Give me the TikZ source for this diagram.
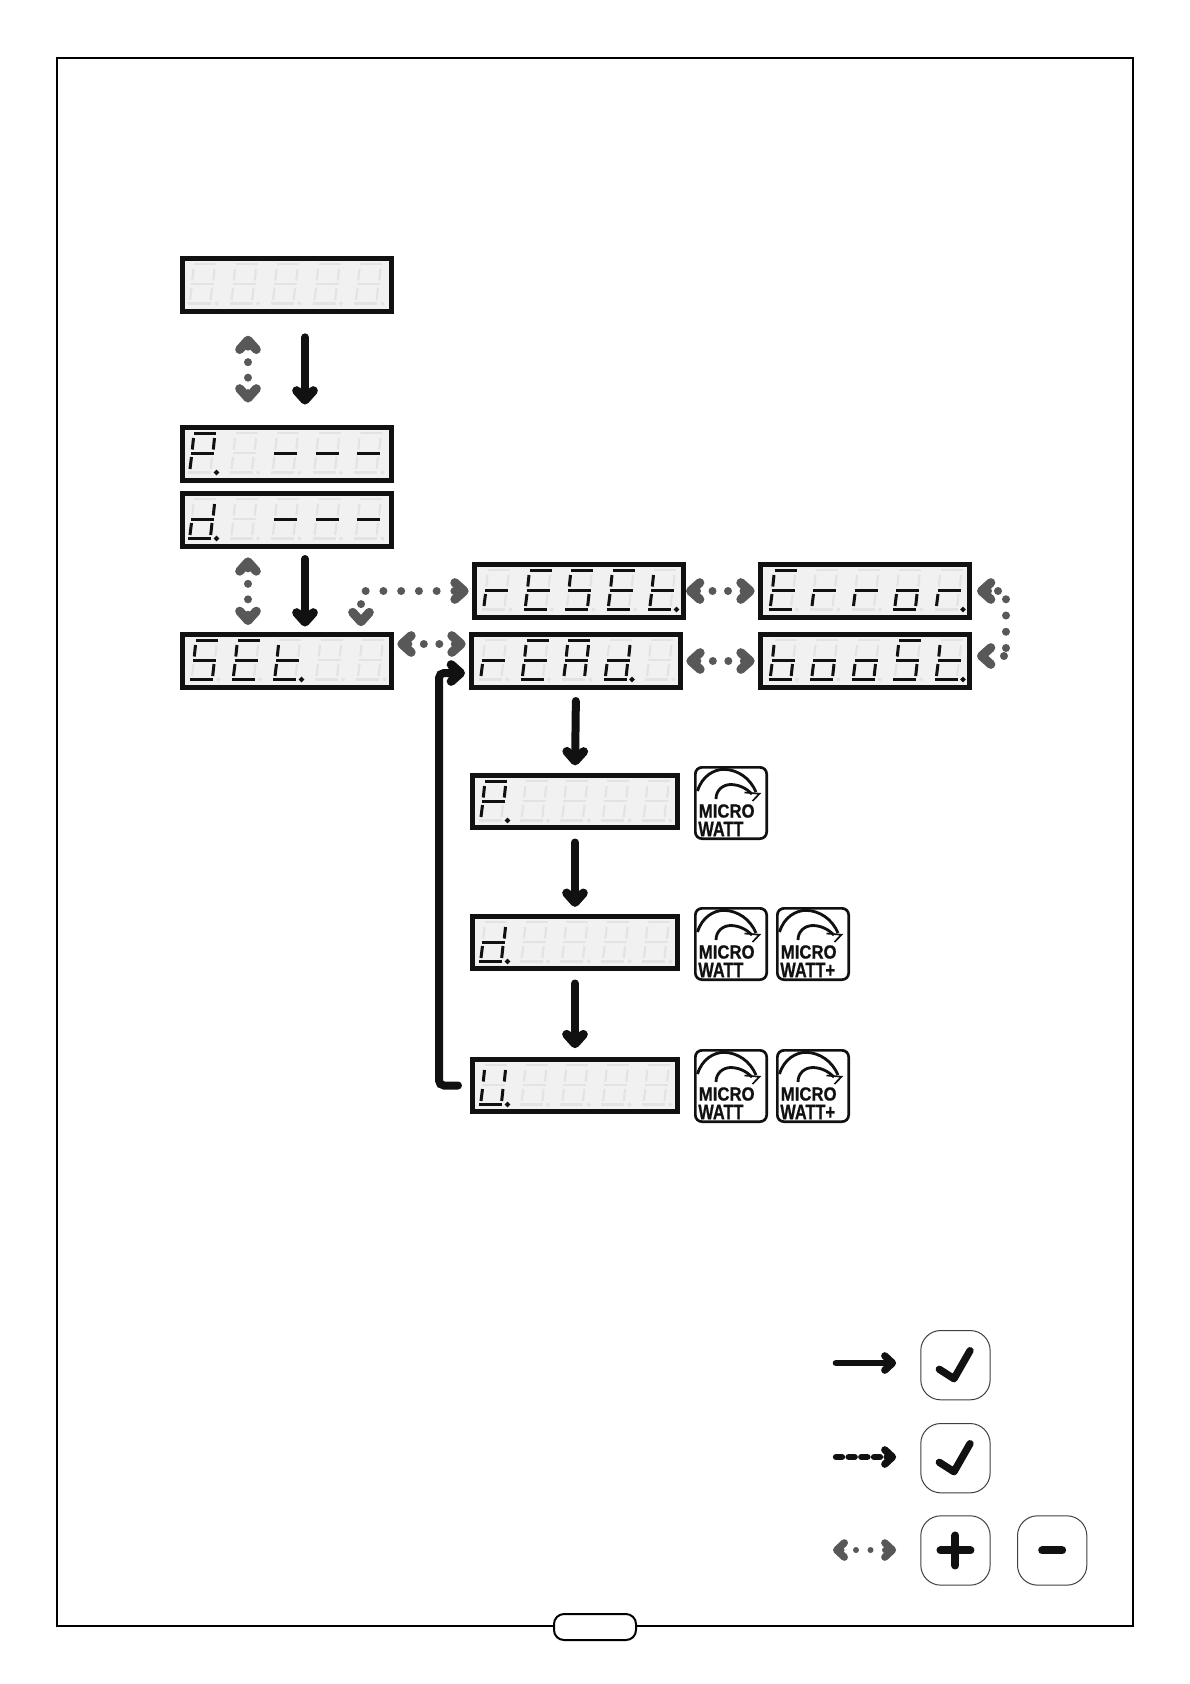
\documentclass[tikz,border=0pt]{standalone}
\usepackage{fontspec}
\setsansfont{Liberation Sans}
\newfontfamily\badgefont[FakeBold=0.9]{Liberation Sans Bold}
\usetikzlibrary{arrows.meta}
\usetikzlibrary{calc}
\definecolor{lcdback}{HTML}{F1F1F1}
\definecolor{lcdoff}{HTML}{E3E3E3}
\definecolor{inkblack}{HTML}{111111}
\definecolor{inkgrey}{HTML}{585858}

% the seven segments and the dot of one digit
\newcommand{\defseg}[2]{\expandafter\def\csname seg#1\endcsname{#2}}
\defseg{a}{(14,8) -- (36,8)}
\defseg{b}{(34.5,13) -- (33.3,24.5)}
\defseg{c}{(32,32) -- (30.7,44)}
\defseg{d}{(8,47.5) -- (31,47.5)}
\defseg{e}{(11.5,32) -- (10,44)}
\defseg{f}{(13.5,13) -- (12.3,24.5)}
\defseg{g}{(11,28) -- (34,28)}
\defseg{h}{(36.5,47.5) circle (0.4pt)}
\defseg{n}{}

% #1 node, #2 x offset, #3 pitch, #4 lit segments of the five digits
\newcommand{\lcd}[4]{
  \begin{scope}[shift={(#1.north west)}, xshift=#2*0.6pt]
    \foreach \i/\lit in {#4} {
      \begin{scope}[shift={(\i*#3,0)}]
        \foreach \s in {a,b,c,d,e,f,g,h}
          \draw[segoff] \csname seg\s\endcsname;
        \foreach \s in \lit
          \draw[segon] \csname seg\s\endcsname;
      \end{scope}
    }
  \end{scope}
}

% #1 node name, #2 position, #3 text after WATT
\newcommand{\badge}[3]{
  \node[badgebox] (#1) at #2 {};
  \node[badgetext] (#1 m) at ($(#1.north west)+(4.5,45)$) {\scalebox{0.88}[1]{MICRO}};
  \node[badgetext, font=\badgefont\fontsize{12.6}{12.6}\selectfont] (#1 w) at ($(#1.north west)+(4,63)$) {\scalebox{0.78}[1]{WATT#3}};
  \begin{scope}[shift={(#1.north west)}]
    \draw[badgearc] (3.5,25) .. controls (8,10) and (20,3.3) .. (30,3.3) .. controls (44,3.8) and (56,12) .. (62,26);
    \draw[badgearc] (22,33) .. controls (22,24) and (29,18.5) .. (37,18.5) .. controls (46,18.7) and (53,23) .. (58,28);
    \draw[badgehead] (50.5,26.5) -- (65.5,27.7) -- (58.5,35);
  \end{scope}
}

\tikzset{
  display/.style={draw=inkblack, fill=lcdback, line width=3pt, inner sep=0pt,
    minimum width=125.4pt, minimum height=31.8pt, anchor=north west},
  shortdisplay/.style={display, minimum width=123pt, minimum height=31.2pt},
  segoff/.style={draw=lcdoff, line width=1.3pt},
  segon/.style={draw=inkblack, line width=1.8pt},
  chev/.tip={Straight Barb[round, length=5.6pt, width=10pt, line width=5.4pt]},
  smallchev/.tip={Straight Barb[round, length=4.6pt, width=8.6pt, line width=4.4pt]},
  solidflow/.style={draw=inkblack, line width=4.8pt, line cap=round, -{chev}},
  dotflow/.style={draw=inkgrey, line width=4.8pt, line cap=round,
    dash pattern=on 0pt off 9.3pt, dash phase=8.1pt, {chev}-{chev}},
  badgebox/.style={draw=inkblack, fill=white, line width=1.6pt, rounded corners=4pt,
    minimum width=42.8pt, minimum height=42.8pt, inner sep=0pt, anchor=north west},
  badgetext/.style={font=\badgefont\fontsize{11.4}{11.4}\selectfont, text=inkblack,
    anchor=west, inner sep=0pt},
  badgearc/.style={draw=inkblack, line width=1.7pt},
  badgehead/.style={draw=inkblack, line width=1pt},
  pushbtn/.style={draw=black!75, line width=0.6pt, rounded corners=12pt,
    minimum width=41.6pt, minimum height=41.6pt, inner sep=0pt, anchor=north west},
  glyph/.style={draw=inkblack, line width=4.4pt, line cap=round, line join=round},
}

\begin{document}
\begin{tikzpicture}[x=0.6pt,y=-0.6pt]

  \useasboundingbox (0,0) rectangle (1190,1684);
  \fill[white] (0,0) rectangle (1190,1684);

  % page frame and the tab on it
  \draw[line width=1.2pt] (57,58) rectangle (1133,1626);
  \node[draw, fill=white, line width=1.2pt, rounded corners=6pt, minimum width=49.2pt,
    minimum height=15.6pt, inner sep=0pt] (tab) at (595,1627) {};

  % displays of the left column
  \node[display] (blank) at (180,256) {};
  \node[display] (pdash) at (180,425) {};
  \node[display] (ddash) at (180,491) {};
  \node[display] (set)   at (180,632) {};

  % displays of the menu
  \node[display] (reset) at (472,562) {};
  \node[display] (read)  at (469,632) {};
  \node[display] (error) at (758,562) {};
  \node[display] (boost) at (758,632) {};

  % displays of the read values
  \node[shortdisplay] (pval) at (470,773) {};
  \node[shortdisplay] (dval) at (470,914) {};
  \node[shortdisplay] (uval) at (470,1057) {};

  \lcd{blank}{0}{41.5}{0/n,1/n,2/n,3/n,4/n}
  \lcd{pdash}{0}{41.5}{0/{a,b,e,f,g,h},1/n,2/g,3/g,4/g}
  \lcd{ddash}{0}{41.5}{0/{b,c,d,e,g,h},1/n,2/g,3/g,4/g}
  \lcd{set}{2}{41.5}{0/{a,c,d,f,g},1/{a,d,e,f,g},2/{d,e,f,g,h},3/n,4/n}
  \lcd{reset}{2}{41.5}{0/{e,g},1/{a,d,e,f,g},2/{a,c,d,f,g},3/{a,d,e,f,g},4/{d,e,f,g,h}}
  \lcd{read}{2}{41.5}{0/{e,g},1/{a,d,e,f,g},2/{a,b,c,e,f,g},3/{b,c,d,e,g,h},4/n}
  \lcd{error}{2.5}{41.5}{0/{a,d,e,f,g},1/{e,g},2/{e,g},3/{c,d,e,g},4/{e,g,h}}
  \lcd{boost}{2.5}{41.5}{0/{c,d,e,f,g},1/{c,d,e,g},2/{c,d,e,g},3/{a,c,d,f,g},4/{d,e,f,g,h}}
  \lcd{pval}{1}{40.7}{0/{a,b,e,f,g,h},1/n,2/n,3/n,4/n}
  \lcd{dval}{1}{40.7}{0/{b,c,d,e,g,h},1/n,2/n,3/n,4/n}
  \lcd{uval}{1}{40.7}{0/{b,c,d,e,f,h},1/n,2/n,3/n,4/n}

  % badges beside the read values
  \badge{mw a}{(694,766)}{}
  \badge{mw b}{(694,907)}{}
  \badge{mwp b}{(776,907)}{+}
  \badge{mw c}{(694,1049)}{}
  \badge{mwp c}{(776,1049)}{+}

  % black arrows
  \draw[solidflow, shorten <=14pt, shorten >=12.3pt] ([xshift=10.8pt]blank.south) -- ([xshift=10.8pt]pdash.north);
  \draw[solidflow, shorten <=6pt, shorten >=3.3pt] ([xshift=10.8pt]ddash.south) -- ([xshift=10.8pt]set.north);
  \draw[solidflow, shorten <=6.6pt, shorten >=4.6pt] (read.south) -- (pval.north);
  \draw[solidflow, shorten <=7.5pt, shorten >=4.3pt] (pval.south) -- (dval.north);
  \draw[solidflow, shorten <=7.5pt, shorten >=5.3pt] (dval.south) -- (uval.north);
  \draw[solidflow, rounded corners=3pt, shorten <=7.2pt, shorten >=2.4pt]
    (uval.west) -| (439,673) -- ([yshift=-7.2pt]read.west);

  % grey arrows, both ways
  \draw[dotflow, shorten <=13pt, shorten >=13.5pt] ([xshift=-23.4pt]blank.south) -- ([xshift=-23.4pt]pdash.north);
  \draw[dotflow, shorten <=5pt, shorten >=4.2pt] ([xshift=-23.4pt]ddash.south) -- ([xshift=-23.4pt]set.north);
  \draw[dotflow, shorten <=2pt, shorten >=2pt] ([yshift=10.2pt]set.east) -- ([yshift=10.2pt]read.west);
  \draw[dotflow, dash pattern=on 0pt off 10.65pt, dash phase=7.5pt, shorten <=2pt, shorten >=3.5pt]
    (reset.west) -| ([xshift=44.4pt]set.north);
  \draw[dotflow, shorten <=0pt, shorten >=2pt] (reset.east) -- (error.west);
  \draw[dotflow, shorten <=2pt, shorten >=2pt] (read.east) -- (boost.west);
  \draw[dotflow, dash pattern=on 0pt off 6pt on 0pt off 9.75pt on 0pt off 9.75pt on 0pt off 9.75pt on 0pt off 9.75pt on 0pt off 6pt on 0pt off 30pt,
    dash phase=79.8pt, shorten <=3pt, shorten >=3pt] (error.east) -| (1006,656) -- ([yshift=3pt]boost.east);

  % legend
  \node[pushbtn] (okfirst)  at (920.3,1330) {};
  \node[pushbtn] (oksecond) at (920.3,1423) {};
  \node[pushbtn] (plusbtn)  at (920.3,1515.3) {};
  \node[pushbtn] (minusbtn) at (1017,1515.3) {};

  \coordinate (solid start) at (836,1363);
  \coordinate (dash start) at (836,1457);
  \coordinate (dot start) at (833,1550);
  \draw[draw=inkblack, line width=4pt, line cap=round, -{smallchev}, shorten >=14.5pt] (solid start) -- (solid start -| okfirst.west);
  \draw[draw=inkblack, line width=3.8pt, line cap=round, dash pattern=on 3.6pt off 4pt, -{smallchev}, shorten >=14.5pt] (dash start) -- (dash start -| oksecond.west);
  \draw[draw=inkgrey, line width=3.6pt, line cap=round, dash pattern=on 0pt off 8.7pt, dash phase=8pt, {smallchev}-{smallchev}, shorten >=14.5pt] (dot start) -- (dot start -| plusbtn.west);

  \draw[glyph] ($(okfirst.north west)+(19,39.3)$) -- ++(14.7,9.4) -- ++(16,-28);
  \draw[glyph] ($(oksecond.north west)+(19,39.3)$) -- ++(14.7,9.4) -- ++(16,-28);
  \draw[glyph, line width=4.8pt] ($(plusbtn.center)+(-15,0)$) -- ($(plusbtn.center)+(15,0)$);
  \draw[glyph, line width=4.8pt] ($(plusbtn.center)+(0,-15)$) -- ($(plusbtn.center)+(0,15)$);
  \draw[glyph, line width=4.8pt] ($(minusbtn.center)+(-10,0)$) -- ($(minusbtn.center)+(10,0)$);

\end{tikzpicture}
\end{document}
